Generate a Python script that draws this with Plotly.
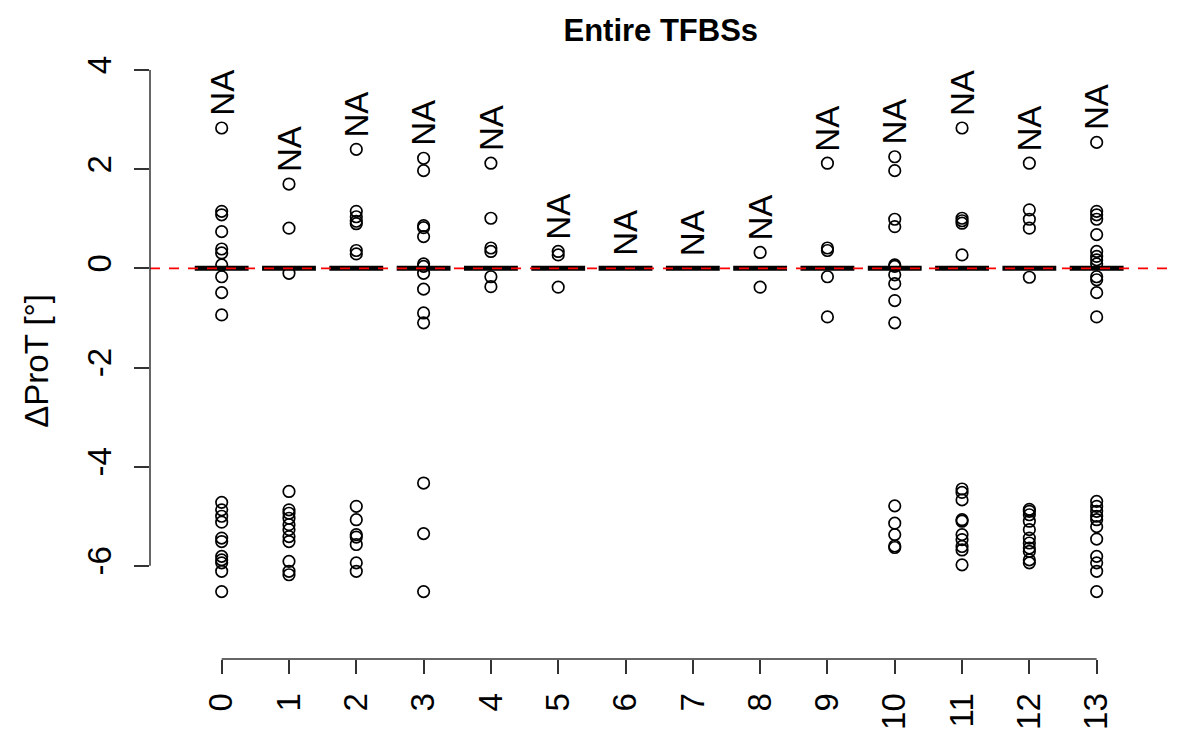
import plotly.graph_objects as go

categories = list(range(14))
tick_labels = [str(c) for c in categories]

# Box statistics (all collapsed at zero)
q1 = [0.0] * 14
median = [0.0] * 14
q3 = [0.0] * 14
lower_fence = [0.0] * 14
upper_fence = [0.0] * 14

# Outliers per category
out_0 = [2.83, 1.15, 1.08, 0.74, 0.39, 0.31, 0.07, -0.17, -0.49, -0.94,
         -4.72, -4.87, -5.00, -5.12, -5.44, -5.51, -5.81, -5.88, -5.94, -6.11, -6.52]
out_1 = [1.70, 0.81, -0.10, -4.50, -4.87, -4.94, -5.04, -5.17, -5.27, -5.41,
         -5.51, -5.91, -6.11, -6.18]
out_2 = [2.40, 1.15, 1.04, 0.95, 0.90, 0.36, 0.29, -4.80, -5.07, -5.37, -5.42,
         -5.57, -5.94, -6.11]
out_3 = [2.22, 1.97, 0.86, 0.82, 0.64, 0.09, 0.04, -0.10, -0.42, -0.90, -1.10,
         -4.33, -5.35, -6.52]
out_4 = [2.12, 1.01, 0.41, 0.34, -0.17, -0.37]
out_5 = [0.34, 0.27, -0.38]
out_6 = []
out_7 = []
out_8 = [0.32, -0.38]
out_9 = [2.12, 0.41, 0.36, -0.17, -0.98]
out_10 = [2.25, 1.97, 0.99, 0.84, 0.07, 0.04, -0.13, -0.31, -0.65, -1.10,
          -4.79, -5.14, -5.37, -5.60, -5.63]
out_11 = [2.83, 1.01, 0.96, 0.91, 0.27, -4.45, -4.52, -4.67, -5.07, -5.10,
          -5.37, -5.47, -5.61, -5.68, -5.98]
out_12 = [2.12, 1.18, 0.99, 0.81, -0.18, -4.86, -4.90, -4.97, -5.10, -5.27,
          -5.44, -5.54, -5.64, -5.71, -5.88, -5.94]
out_13 = [2.54, 1.15, 1.08, 0.99, 0.68, 0.34, 0.24, 0.17, 0.09, -0.17, -0.23,
          -0.49, -0.98, -4.70, -4.80, -4.90, -5.00, -5.07, -5.21, -5.46, -5.81,
          -5.94, -6.11, -6.52]

outliers = [out_0, out_1, out_2, out_3, out_4, out_5, out_6, out_7, out_8,
            out_9, out_10, out_11, out_12, out_13]
na_labels = ["NA"] * 14

y_ticks = [-6, -4, -2, 0, 2, 4]
title_text = "Entire TFBSs"
y_title = "ΔProT [°]"

FONT = "Liberation Sans, Arial, Helvetica, sans-serif"
TICK_SIZE = 33

fig = go.Figure()

fig.add_trace(go.Box(
    x=categories, q1=q1, median=median, q3=q3,
    lowerfence=lower_fence, upperfence=upper_fence,
    width=0.8, whiskerwidth=0,
    line=dict(color="black", width=5),
    fillcolor="rgba(0,0,0,0)",
    hoverinfo="skip", showlegend=False,
))

ox, oy = [], []
for c, vals in zip(categories, outliers):
    for v in vals:
        ox.append(c)
        oy.append(v)

fig.add_trace(go.Scatter(
    x=ox, y=oy, mode="markers",
    marker=dict(symbol="circle-open", size=11.5, color="black",
                line=dict(color="black", width=1.7)),
    hoverinfo="skip", showlegend=False,
))

# NA labels above the highest value of each category
for c, vals, lab in zip(categories, outliers, na_labels):
    top = max(vals + [median[c]])
    fig.add_annotation(
        x=c, y=top, text=lab, showarrow=False, textangle=-90,
        xanchor="center", yanchor="bottom", yshift=10,
        font=dict(family=FONT, size=TICK_SIZE, color="black"),
    )

# Y-axis title
fig.add_annotation(
    x=0, xref="paper", xshift=-113, y=0.4866, yref="paper",
    text=y_title, showarrow=False, textangle=-90,
    xanchor="center", yanchor="middle",
    font=dict(family=FONT, size=TICK_SIZE, color="black"),
)

# reference line at zero
fig.add_shape(type="line", xref="paper", x0=0, x1=1, yref="y", y0=0, y1=0,
              line=dict(color="red", width=1.6, dash="10px,9px"), layer="above")
# axis lines restricted to the tick range (R style)
fig.add_shape(type="line", xref="x", x0=categories[0], x1=categories[-1],
              yref="paper", y0=0, y1=0, line=dict(color="#333333", width=1.5))
fig.add_shape(type="line", xref="paper", x0=0, x1=0,
              yref="y", y0=y_ticks[0], y1=y_ticks[-1],
              line=dict(color="#333333", width=1.5))

fig.update_layout(
    width=1200, height=750,
    margin=dict(l=142, r=40, t=38, b=98.5),
    paper_bgcolor="white", plot_bgcolor="white",
    title=dict(text="<b>" + title_text + "</b>", x=0.544, xanchor="center",
               y=0.9707, yanchor="middle", yref="container",
               font=dict(family=FONT, size=31, color="black")),
    font=dict(family=FONT, color="black"),
    xaxis=dict(
        range=[-1.065, 14.06], tickmode="array", tickvals=categories,
        ticktext=tick_labels, tickangle=-90, ticks="outside", ticklen=14,
        tickwidth=1.5, tickcolor="#333333", showgrid=False, zeroline=False,
        showline=False, tickfont=dict(family=FONT, size=TICK_SIZE, color="black"),
        ticklabelstandoff=6,
    ),
    yaxis=dict(
        range=[-7.879, 4.484], tickmode="array", tickvals=y_ticks,
        ticktext=[str(t) for t in y_ticks], tickangle=-90, ticks="outside",
        ticklen=15, tickwidth=1.5, tickcolor="#333333", showgrid=False,
        zeroline=False, showline=False,
        tickfont=dict(family=FONT, size=TICK_SIZE, color="black"),
        ticklabelstandoff=10,
    ),
)

fig.write_html("out.html")
